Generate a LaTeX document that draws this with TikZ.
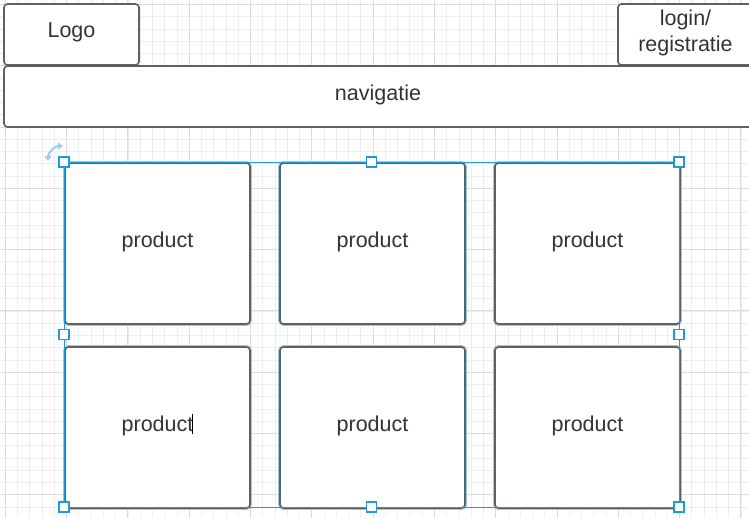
\documentclass[tikz,border=0pt]{standalone}
\usepackage{fontspec}
\setmainfont{Liberation Sans}
\usetikzlibrary{arrows.meta}

\definecolor{boxgray}{HTML}{606060}
\definecolor{txtgray}{HTML}{333333}
\definecolor{selblue}{HTML}{1E9BD7}
\definecolor{halo}{HTML}{8ECDF0}
\definecolor{rotblue}{HTML}{9FCBEF}
\definecolor{gridminor}{HTML}{EDEDED}
\definecolor{gridmajor}{HTML}{DCDCDC}

\begin{document}
\begin{tikzpicture}[
            x = 1pt, y = -1pt,
            every node/.style={inner sep=0pt, text depth=8pt, font=\fontsize{21.5}{26}\selectfont, text=txtgray},
            box/.style={draw=boxgray, line width=1.6pt, fill=white, rounded corners=3.5pt},
            prodbox/.style={box, minimum width=185pt, minimum height=161pt,
                preaction={draw=halo, line width=3.8pt}},
            handle/.style={rectangle, draw=selblue, fill=white, line width=1.2pt, minimum size=10pt, text depth=0pt},
            selline/.style={draw=selblue, line width=.8pt},
            ]

        % background and grid
        \fill[white] (0, 0) rectangle (749, 517);
        \useasboundingbox (0, 0) rectangle (749, 517);
        \begin{scope}[shift={(5.3, 4.4)}]
            \draw[gridminor, line width=.8pt, step=12.26pt] (-10, 520) grid (750, -10);
            \draw[gridmajor, line width=.9pt, step=61.3pt] (-10, 520) grid (750, -10);
        \end{scope}

        % header
        \node[box, minimum width=135pt, minimum height=61pt] (logo) at (71.5, 34.5) {Logo};
        \node[box, minimum width=135pt, minimum height=61pt, align=center] (login) at (685.5, 34.5) {login/\\registratie};
        \node[box, minimum width=748pt, minimum height=61pt] (nav) at (378, 96.5) {navigatie};

        % products
        \node[prodbox] (p1) at (157.5, 243.5) {product};
        \node[prodbox] (p2) at (372.5, 243.5) {product};
        \node[prodbox] (p3) at (587.5, 243.5) {product};
        \node[prodbox] (p4) at (157.5, 427.5) {product};
        \node[prodbox] (p5) at (372.5, 427.5) {product};
        \node[prodbox] (p6) at (587.5, 427.5) {product};

        % selection
        \draw[selline] (64, 162) rectangle (679, 507);
        \node[handle] (h1) at (64, 162) {};
        \node[handle] (h2) at (371.5, 162) {};
        \node[handle] (h3) at (679, 162) {};
        \node[handle] (h4) at (64, 334.5) {};
        \node[handle] (h5) at (679, 334.5) {};
        \node[handle] (h6) at (64, 507) {};
        \node[handle] (h7) at (371.5, 507) {};
        \node[handle] (h8) at (679, 507) {};

        % rotate icon and text cursor
        \draw[rotblue, line width=2pt, {Triangle[length=5pt, width=7pt]}-{Triangle[length=5pt, width=7pt]}] (48, 161) arc (180:270:15);
        \draw[black, line width=1.3pt] (192.7, 414) -- (192.7, 433.5);
    \end{tikzpicture}
\end{document}
